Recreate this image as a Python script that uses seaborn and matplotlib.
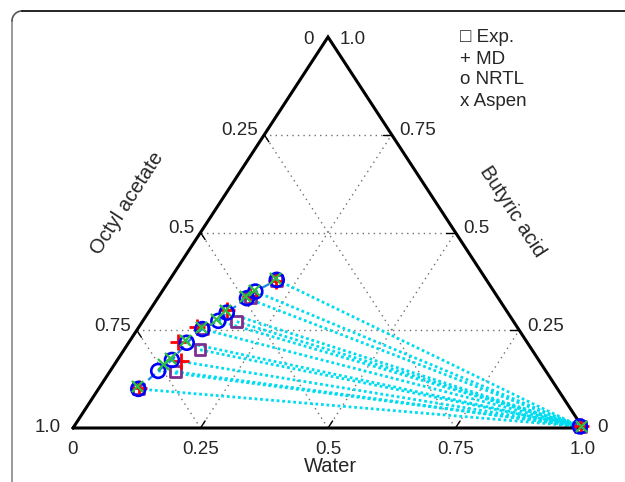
import matplotlib
matplotlib.use("Agg")
import numpy as np
import pandas as pd
import matplotlib.pyplot as plt
import seaborn as sns

sns.set_theme(style="white")
plt.rcParams['font.family'] = ['Liberation Sans', 'DejaVu Sans']

# ---- data (mass fractions) ----
# organic (octyl-acetate-rich) phase
exp_water    = [0.078, 0.129, 0.149, 0.127, 0.185, 0.181, 0.210]
exp_butyric  = [0.100, 0.144, 0.200, 0.253, 0.272, 0.333, 0.378]
md_water     = [0.078, 0.126, 0.096, 0.114, 0.150, 0.178, 0.210]
md_butyric   = [0.102, 0.171, 0.221, 0.258, 0.302, 0.338, 0.376]
nrtl_water   = [0.078, 0.094, 0.107, 0.114, 0.127, 0.148, 0.154, 0.175, 0.183, 0.210]
nrtl_butyric = [0.100, 0.146, 0.174, 0.218, 0.253, 0.274, 0.295, 0.332, 0.349, 0.379]
aspen_water  = [0.072, 0.095, 0.100, 0.108, 0.121, 0.141, 0.148, 0.168, 0.177, 0.204]
aspen_butyric= [0.108, 0.164, 0.180, 0.224, 0.258, 0.280, 0.302, 0.338, 0.354, 0.384]
# aqueous (water-rich) phase
aq_water     = [0.993, 0.994, 0.992, 0.993]
aq_butyric   = [0.004, 0.005, 0.004, 0.005]
aq_series    = ["Exp.", "MD", "NRTL", "Aspen"]

ticks = [0, 0.25, 0.5, 0.75, 1.0]
tick_labels = ["0", "0.25", "0.5", "0.75", "1.0"]
legend_lines = ["\u25a1 Exp.", "+ MD", "o NRTL", "x Aspen"]
axis_titles = ["Water", "Octyl acetate", "Butyric acid"]


def cart(w, b):
    w = np.asarray(w, float)
    b = np.asarray(b, float)
    return w + 0.5 * b, b


W, H = 625, 482
fig = plt.figure(figsize=(W / 100, H / 100), dpi=100)

# journal frame (rounded corner, top & left)
bg = fig.add_axes([0, 0, 1, 1])
bg.set_xlim(0, W)
bg.set_ylim(H, 0)
bg.axis("off")
t = np.linspace(np.pi, 1.5 * np.pi, 20)
r = 10
bg.plot([12, 12], [H, 11 + r], color="#888888", lw=1.2)
bg.plot(12 + r + r * np.cos(t), 11 + r + r * np.sin(t), color="#555555", lw=1.2)
bg.plot([12 + r, W], [11, 11], color="black", lw=1.2)

ax = fig.add_axes([73 / W, 1 - 428 / H, 510 / W, 391 / H])
ax.set_xlim(0, 1)
ax.set_ylim(0, 1)
ax.axis("off")

# grid lines
gkw = dict(color="#707070", lw=1.0, ls=(0, (1, 3)), zorder=1)
for v in [0.25, 0.5, 0.75]:
    x, y = cart([0, 1 - v], [v, v]); ax.plot(x, y, **gkw)
    x, y = cart([v, v], [0, 1 - v]); ax.plot(x, y, **gkw)
    x, y = cart([v, 0], [0, v]); ax.plot(x, y, **gkw)

# edge ticks
L = 0.018
for v in [0.25, 0.5, 0.75]:
    x, y = cart([v, v], [0, L]); ax.plot(x, y, color="black", lw=1.0)
    x, y = cart([1 - v, 1 - v - L], [v, v]); ax.plot(x, y, color="black", lw=1.0)
    x, y = cart([0, L], [v, v - L]); ax.plot(x, y, color="black", lw=1.0)

# triangle
x, y = cart([0, 1, 0, 0], [0, 0, 1, 0])
ax.plot(x, y, color="black", lw=2.2, zorder=3, solid_joinstyle="miter")

# tie lines
tie_w = nrtl_water + [exp_water[1], exp_water[2], exp_water[4]]
tie_b = nrtl_butyric + [exp_butyric[1], exp_butyric[2], exp_butyric[4]]
for w0, b0 in zip(tie_w, tie_b):
    x, y = cart([w0, aq_water[2]], [b0, aq_butyric[2]])
    ax.plot(x, y, color="#00dcf0", lw=2.0, ls=(0, (1, 1.0)), zorder=2)

# NRTL binodal dashed line
x, y = cart(nrtl_water, nrtl_butyric)
sns.lineplot(x=x, y=y, sort=False, ax=ax, color="#1a86e0", lw=1.6,
             linestyle=(0, (4, 2)), zorder=4)

# markers
ex, ey = cart(exp_water + [aq_water[0]], exp_butyric + [aq_butyric[0]])
sns.scatterplot(x=ex, y=ey, ax=ax, marker="s", s=60, facecolor="none",
                edgecolor="#7e2f8e", linewidth=2.0, zorder=5)
mx, my = cart(md_water + [aq_water[1]], md_butyric + [aq_butyric[1]])
sns.scatterplot(x=mx, y=my, ax=ax, marker="+", s=140, color="red",
                linewidth=2.0, zorder=6)
nx, ny = cart(nrtl_water + [aq_water[2]], nrtl_butyric + [aq_butyric[2]])
sns.scatterplot(x=nx, y=ny, ax=ax, marker="o", s=100, facecolor="none",
                edgecolor="blue", linewidth=1.9, zorder=7)
axx, axy = cart(aspen_water + [aq_water[3]], aspen_butyric + [aq_butyric[3]])
sns.scatterplot(x=axx, y=axy, ax=ax, marker="x", s=65, color="#2cc040",
                linewidth=1.6, zorder=8)

for a in ax.get_children():
    try:
        a.set_clip_on(False)
    except Exception:
        pass

fs = 13.5
fst = 14.5
# bottom labels (water)
for v, lab in zip(ticks, tick_labels):
    x, y = cart(v, 0)
    ax.annotate(lab, (x, y), xytext=(0, -13), textcoords="offset pixels",
                ha="center", va="top", fontsize=fs)
# left labels (octyl acetate)
left_offsets = {0: (-12, 0), 1.0: (-14, -2)}
for v, lab in zip(ticks, tick_labels[::-1]):
    x, y = cart(0, v)
    off = left_offsets.get(v, (-6, 4))
    ax.annotate(lab, (x, y), xytext=off, textcoords="offset pixels",
                ha="right", va="center", fontsize=fs)
# right labels (butyric acid)
right_offsets = {0: (14, 0), 1.0: (12, -2)}
for v, lab in zip(ticks, tick_labels):
    x, y = cart(1 - v, v)
    off = right_offsets.get(v, (8, 4))
    ax.annotate(lab, (x, y), xytext=off, textcoords="offset pixels",
                ha="left", va="center", fontsize=fs)

# axis titles
fig.text(330 / W, 1 - 467 / H, axis_titles[0], ha="center", va="center", fontsize=fst)
fig.text(127 / W, 1 - 203 / H, axis_titles[1], ha="center", va="center",
         fontsize=fst, rotation=57, rotation_mode="anchor")
fig.text(512 / W, 1 - 212 / H, axis_titles[2], ha="center", va="center",
         fontsize=fst, rotation=-57, rotation_mode="anchor")

# text legend
for i, s in enumerate(legend_lines):
    fig.text(460 / W, 1 - (38 + 21 * i) / H, s, ha="left", va="center", fontsize=fs)

fig.savefig("out.png", dpi=100)
